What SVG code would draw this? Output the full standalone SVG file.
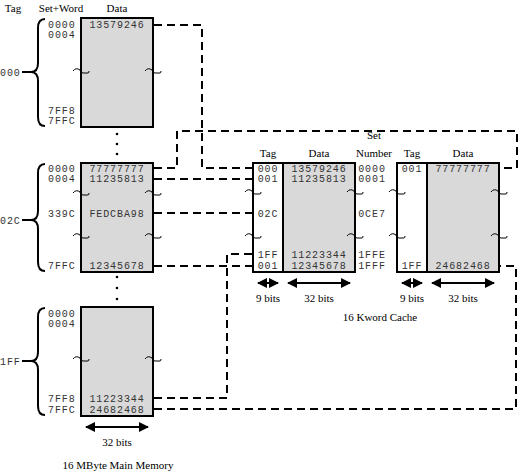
<svg xmlns="http://www.w3.org/2000/svg" width="522" height="473" viewBox="0 0 522 473">
<style>
.box{fill:#d9d9d9;stroke:#000;stroke-width:2}
.tagcol{fill:#fff;stroke:#000;stroke-width:2}
.m{font-family:"Liberation Mono","Courier New",monospace;font-size:10px;letter-spacing:0.9px;fill:#333}
.t{font-family:"Liberation Serif","Times New Roman","DejaVu Serif",serif;font-size:11px;fill:#000}
.mid{text-anchor:middle}
.dash{fill:none;stroke:#000;stroke-width:2;stroke-dasharray:8 5}
.sq{fill:none;stroke:#000;stroke-width:1}
.br{fill:none;stroke:#000;stroke-width:2}
.ar{stroke:#000;stroke-width:2;marker-start:url(#ah);marker-end:url(#ah)}
</style>
<defs>
<marker id="ah" viewBox="0 0 10 10" refX="9" refY="5" markerWidth="5" markerHeight="5" orient="auto-start-reverse">
<path d="M0,0 L10,5 L0,10 z" fill="#000"/>
</marker>
<path id="sqg" d="M-8,1 q3,-4 7,-1 q1,3 3,3 l5,0 q1,0 1,-2"/>
</defs>

<rect width="522" height="473" fill="#fff"/>

<g id="headers">
<text class="t mid" x="13" y="12">Tag</text>
<text class="t mid" x="61" y="12">Set+Word</text>
<text class="t mid" x="117" y="12">Data</text>
</g>

<g id="mem-block-000">
<rect class="box" x="81" y="18" width="72" height="109"/>
<path class="br" d="M45,19 Q38,19 38,28 L38,63 Q38,72 31,72 Q38,72 38,81 L38,117 Q38,126 45,126 M22,72 L32,72"/>
<text class="m" x="0" y="76">000</text>
<text class="m" x="48" y="28">0000</text>
<text class="m" x="48" y="38">0004</text>
<text class="m" x="48" y="114">7FF8</text>
<text class="m" x="48" y="124">7FFC</text>
<text class="m mid" x="117" y="28">13579246</text>
<use class="sq" href="#sqg" x="81" y="70"/>
<use class="sq" href="#sqg" x="153" y="70"/>
</g>

<g id="dots">
<circle cx="117" cy="134" r="1.3"/>
<circle cx="117" cy="144" r="1.3"/>
<circle cx="117" cy="154" r="1.3"/>
<circle cx="117" cy="277" r="1.3"/>
<circle cx="117" cy="288" r="1.3"/>
<circle cx="117" cy="299" r="1.3"/>
</g>

<g id="mem-block-02C">
<rect class="box" x="81" y="163" width="72" height="109"/>
<path class="br" d="M45,164 Q38,164 38,173 L38,211 Q38,220 31,220 Q38,220 38,229 L38,262 Q38,271 45,271 M22,220 L32,220"/>
<text class="m" x="0" y="224">02C</text>
<text class="m" x="48" y="172">0000</text>
<text class="m" x="48" y="182">0004</text>
<text class="m" x="48" y="217">339C</text>
<text class="m" x="48" y="269">7FFC</text>
<text class="m mid" x="117" y="172">77777777</text>
<text class="m mid" x="117" y="182">11235813</text>
<text class="m mid" x="117" y="217">FEDCBA98</text>
<text class="m mid" x="117" y="269">12345678</text>
<use class="sq" href="#sqg" x="81" y="192"/>
<use class="sq" href="#sqg" x="153" y="192"/>
<use class="sq" href="#sqg" x="81" y="235"/>
<use class="sq" href="#sqg" x="153" y="235"/>
</g>

<g id="mem-block-1FF">
<rect class="box" x="81" y="307" width="72" height="109"/>
<path class="br" d="M45,308 Q38,308 38,317 L38,352 Q38,361 31,361 Q38,361 38,370 L38,406 Q38,415 45,415 M22,361 L32,361"/>
<text class="m" x="0" y="365">1FF</text>
<text class="m" x="48" y="317">0000</text>
<text class="m" x="48" y="327">0004</text>
<text class="m" x="48" y="402">7FF8</text>
<text class="m" x="48" y="413">7FFC</text>
<text class="m mid" x="117" y="402">11223344</text>
<text class="m mid" x="117" y="413">24682468</text>
<use class="sq" href="#sqg" x="81" y="358"/>
<use class="sq" href="#sqg" x="153" y="358"/>
</g>

<g id="mem-width">
<line class="ar" x1="86" y1="427" x2="148" y2="427"/>
<text class="t mid" x="117" y="446">32 bits</text>
<text class="t mid" x="118" y="469">16 MByte Main Memory</text>
</g>

<g id="cache-way-1">
<rect class="box" x="283" y="163" width="72" height="109"/>
<rect class="tagcol" x="253" y="163" width="30" height="109"/>
<text class="t mid" x="268" y="157">Tag</text>
<text class="t mid" x="319" y="157">Data</text>
<text class="m mid" x="268" y="172">000</text>
<text class="m mid" x="268" y="182">001</text>
<text class="m mid" x="268" y="217">02C</text>
<text class="m mid" x="268" y="258">1FF</text>
<text class="m mid" x="268" y="269">001</text>
<text class="m mid" x="319" y="172">13579246</text>
<text class="m mid" x="319" y="182">11235813</text>
<text class="m mid" x="319" y="258">11223344</text>
<text class="m mid" x="319" y="269">12345678</text>
<use class="sq" href="#sqg" x="253" y="191"/>
<use class="sq" href="#sqg" x="355" y="191"/>
<use class="sq" href="#sqg" x="253" y="235"/>
<use class="sq" href="#sqg" x="355" y="235"/>
<line class="ar" x1="258" y1="283" x2="278" y2="283"/>
<line class="ar" x1="288" y1="283" x2="350" y2="283"/>
<text class="t mid" x="268" y="302">9 bits</text>
<text class="t mid" x="319" y="302">32 bits</text>
</g>

<g id="set-number">
<text class="t mid" x="374" y="139">Set</text>
<text class="t mid" x="374" y="157">Number</text>
<text class="m mid" x="372" y="172">0000</text>
<text class="m mid" x="372" y="182">0001</text>
<text class="m mid" x="372" y="217">0CE7</text>
<text class="m mid" x="372" y="258">1FFE</text>
<text class="m mid" x="372" y="269">1FFF</text>
<text class="t mid" x="380" y="321">16 Kword Cache</text>
</g>

<g id="cache-way-2">
<rect class="box" x="427" y="163" width="72" height="109"/>
<rect class="tagcol" x="397" y="163" width="30" height="109"/>
<text class="t mid" x="412" y="157">Tag</text>
<text class="t mid" x="463" y="157">Data</text>
<text class="m mid" x="412" y="172">001</text>
<text class="m mid" x="412" y="269">1FF</text>
<text class="m mid" x="463" y="172">77777777</text>
<text class="m mid" x="463" y="269">24682468</text>
<use class="sq" href="#sqg" x="397" y="191"/>
<use class="sq" href="#sqg" x="499" y="191"/>
<use class="sq" href="#sqg" x="397" y="235"/>
<use class="sq" href="#sqg" x="499" y="235"/>
<line class="ar" x1="402" y1="283" x2="422" y2="283"/>
<line class="ar" x1="432" y1="283" x2="494" y2="283"/>
<text class="t mid" x="412" y="302">9 bits</text>
<text class="t mid" x="463" y="302">32 bits</text>
</g>

<g id="connectors">
<path class="dash" d="M154,25 H202 V168 H253"/>
<path class="dash" d="M154,168 H177 V131 H517 V168 H499"/>
<path class="dash" d="M154,179 H253"/>
<path class="dash" d="M154,213 H253"/>
<path class="dash" d="M154,266 H253"/>
<path class="dash" d="M154,398 H227 V254 H253"/>
<path class="dash" d="M154,409 H516 V266 H499"/>
</g>
</svg>
